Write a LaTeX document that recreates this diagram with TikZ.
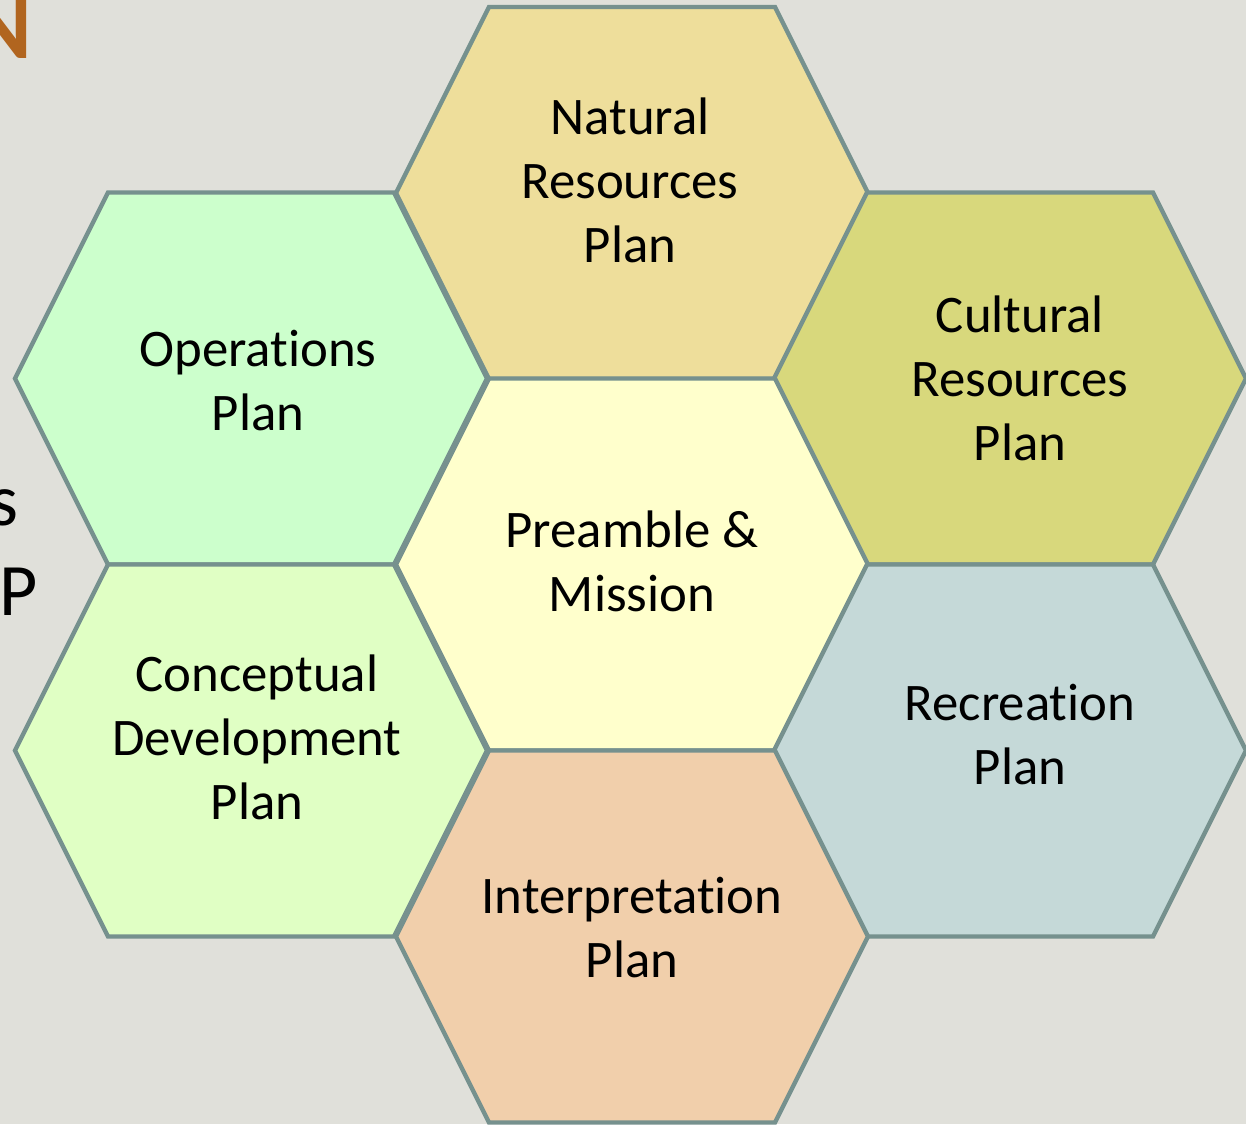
\documentclass[tikz,border=0pt]{standalone}
\usepackage{fontspec}
\setmainfont{Carlito}[Ligatures={NoCommon}]
\definecolor{bgc}{HTML}{E0E0DA}
\definecolor{hexline}{HTML}{76918E}
\definecolor{cNat}{HTML}{EEDE9B}
\definecolor{cCul}{HTML}{D8D87C}
\definecolor{cOps}{HTML}{CCFFCC}
\definecolor{cPre}{HTML}{FFFFCC}
\definecolor{cCon}{HTML}{E0FFC4}
\definecolor{cRec}{HTML}{C5D9D8}
\definecolor{cInt}{HTML}{F1CFAB}
\definecolor{titleorange}{HTML}{B1651F}
\tikzset{
  hexcell/.style={draw=hexline, line width=2.2pt, line join=miter},
  hexlabel/.style={align=center, font=\fontsize{26.4}{32}\selectfont, text=black, inner sep=0pt},
  edgetext/.style={font=\fontsize{37}{40}\selectfont, text=black, inner sep=0pt, anchor=base east}
}
\newcommand\hexcellat[3]{\path[hexcell, fill=#3] (#1-236,#2) -- (#1-143,#2-186) -- (#1+143,#2-186) -- (#1+236,#2) -- (#1+143,#2+186) -- (#1-143,#2+186) -- cycle;}
\begin{document}
\begin{tikzpicture}[x=0.5pt,y=-0.5pt]
\useasboundingbox (0,0) rectangle (1246,1124);
\fill[bgc] (0,0) rectangle (1246,1124);
\clip (0,0) rectangle (1246,1124);
% partial title text at the left edge
\node[edgetext, font=\fontsize{46}{50}\selectfont\bfseries, text=titleorange] (tN) at (33,58) {N};
\node[edgetext] (ts) at (19,525) {s};
\node[edgetext] (tP) at (38,615) {P};
% hexagons
\hexcellat{632}{193}{cNat}
\hexcellat{251}{378.5}{cOps}
\hexcellat{1010}{378.5}{cCul}
\hexcellat{632}{564.5}{cPre}
\hexcellat{251}{750.5}{cCon}
\hexcellat{1010}{750.5}{cRec}
\hexcellat{632}{936.5}{cInt}
% labels
\node[hexlabel] (nat) at (630,180) {Natural\\Resources\\Plan};
\node[hexlabel] (cul) at (1020,378) {Cultural\\Resources\\Plan};
\node[hexlabel] (ops) at (258,381) {Operations\\Plan};
\node[hexlabel] (pre) at (632,561) {Preamble \&\\Mission};
\node[hexlabel] (con) at (257,737) {Conceptual\\Development\\Plan};
\node[hexlabel] (rec) at (1020,735) {Recreation\\Plan};
\node[hexlabel] (int) at (632,928) {Interpretation\\Plan};
\end{tikzpicture}
\end{document}
